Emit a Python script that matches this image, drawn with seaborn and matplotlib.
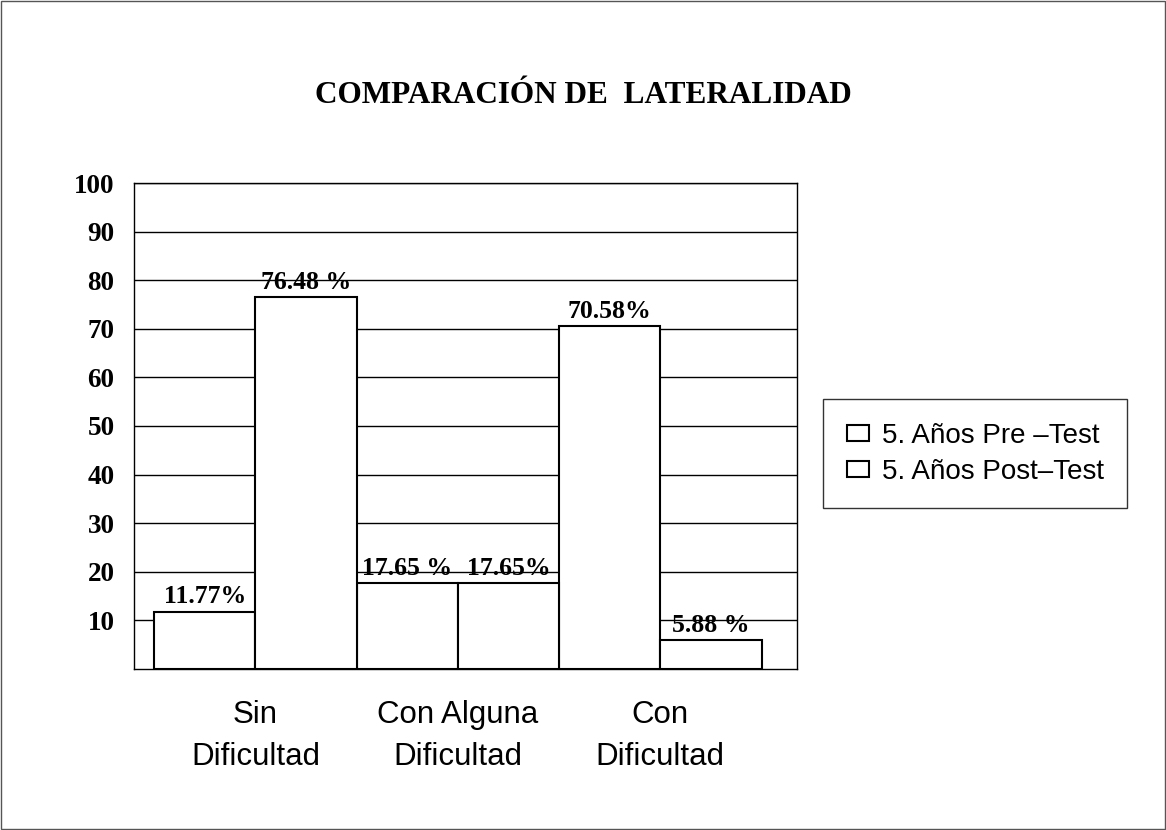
import matplotlib
matplotlib.use("Agg")
import matplotlib.pyplot as plt
import seaborn as sns
import pandas as pd

categories = ["Sin\nDificultad", "Con Alguna\nDificultad", "Con\nDificultad"]
groups = ["5. Años Pre –Test", "5. Años Post–Test"]
pre_values = [11.77, 17.65, 70.58]
post_values = [76.48, 17.65, 5.88]
pre_labels = ["11.77%", "17.65 %", "70.58%"]
post_labels = ["76.48 %", "17.65%", "5.88 %"]
yticks = [10, 20, 30, 40, 50, 60, 70, 80, 90, 100]
title = "COMPARACIÓN DE  LATERALIDAD"

df = pd.DataFrame({
    "cat": categories * 2,
    "grp": [groups[0]] * 3 + [groups[1]] * 3,
    "val": pre_values + post_values,
})

sns.set_theme(style="white")
plt.rcParams['font.family'] = ['Liberation Sans', 'DejaVu Sans']
plt.rcParams['text.color'] = 'black'
plt.rcParams['xtick.color'] = 'black'
plt.rcParams['ytick.color'] = 'black'
plt.rcParams['axes.labelcolor'] = 'black'

serif = ["Liberation Serif", "DejaVu Serif"]

fig = plt.figure(figsize=(11.66, 8.30), dpi=100)
ax = fig.add_axes([0.1149, 0.194, 0.5686, 0.5855])

sns.barplot(data=df, x="cat", y="val", hue="grp", order=categories,
            hue_order=groups, palette=["white", "white"], edgecolor="black",
            linewidth=1.5, width=1.0, ax=ax, zorder=3, legend=True)

ax.set_ylim(0, 100)
ax.set_xlim(-0.6, 2.675)
ax.set_yticks(yticks)
ax.set_yticklabels([str(t) for t in yticks], fontsize=19.5, fontweight="bold",
                   family=serif)
ax.tick_params(axis="y", length=0, pad=14)
ax.tick_params(axis="x", length=0, pad=22, labelsize=22.5)
for lbl in ax.get_xticklabels():
    lbl.set_linespacing(1.55)
ax.set_xlabel("")
ax.set_ylabel("")
ax.yaxis.grid(True, color="black", linewidth=1.0)
ax.set_axisbelow(True)
for s in ax.spines.values():
    s.set_color("black")
    s.set_linewidth(1.0)

# value labels
for cont, labs in zip(ax.containers, [pre_labels, post_labels]):
    for rect, txt in zip(cont, labs):
        ax.annotate(txt, (rect.get_x() + rect.get_width() / 2, rect.get_height()),
                    xytext=(0, 6), textcoords="offset points", ha="center", va="baseline",
                    fontsize=18.5, fontweight="bold", family=serif, zorder=5)

handles, labels = ax.get_legend_handles_labels()
ax.legend_.remove()
leg = fig.legend(handles, labels, loc="upper left", bbox_to_anchor=(0.706, 0.519),
                 frameon=True, fancybox=False, edgecolor="black", fontsize=20,
                 handlelength=0.8, handleheight=0.5, handletextpad=0.45,
                 borderpad=0.85, labelspacing=0.35, borderaxespad=0)
leg.get_frame().set_linewidth(1.0)

fig.text(0.5, 0.8855, title, ha="center", va="center", fontsize=22.5, fontweight="bold",
         family=serif)

# figure border
fig.patches.append(plt.Rectangle((0.001, 0.001), 0.998, 0.998, transform=fig.transFigure,
                                 fill=False, edgecolor="#555555", linewidth=1.0))

fig.savefig("out.png", dpi=100, facecolor="white")
